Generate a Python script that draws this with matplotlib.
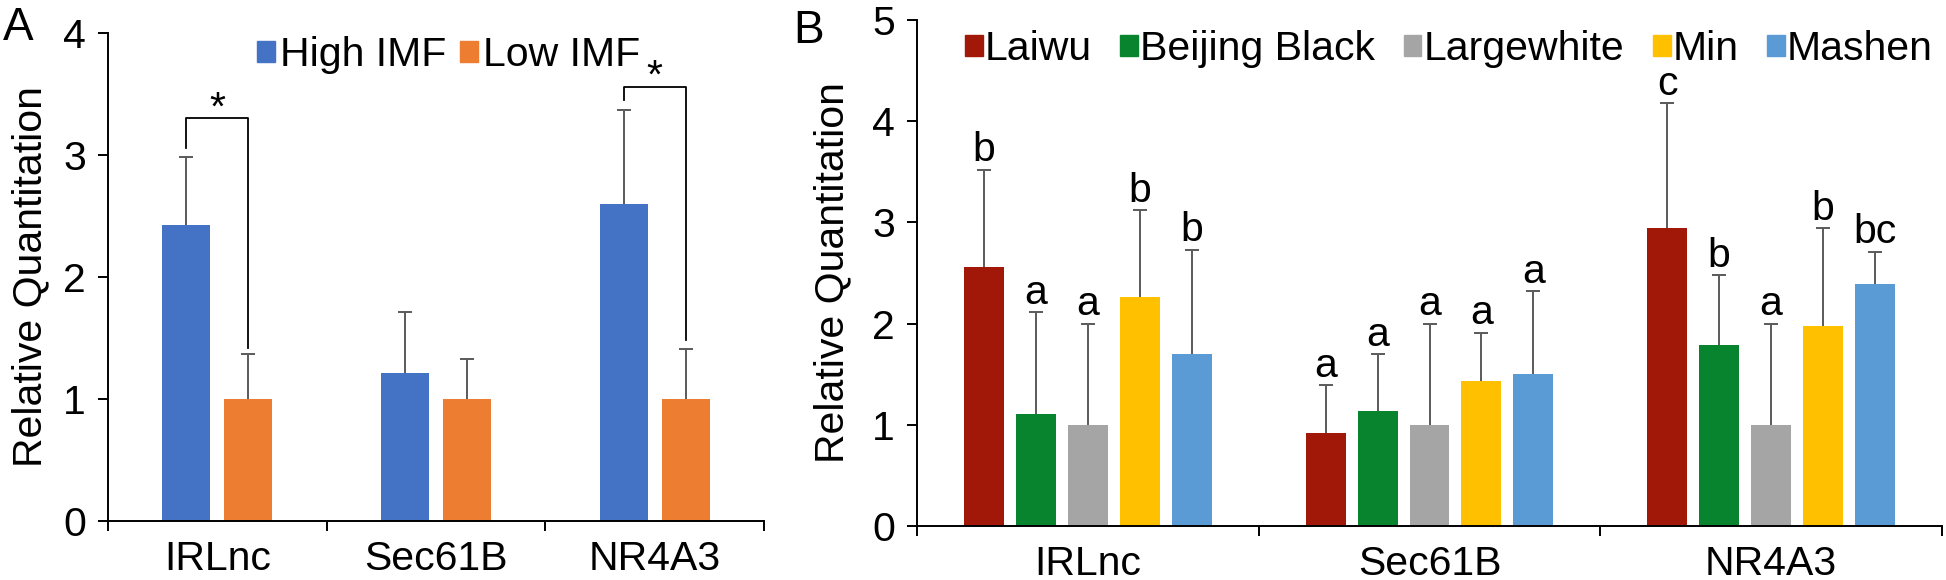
#!/usr/bin/env python3
"""Relative quantitation bar charts: (A) high vs low IMF, (B) five pig breeds."""

import matplotlib
matplotlib.use("Agg")
import matplotlib.pyplot as plt
from matplotlib.patches import Patch
import numpy as np

plt.rcParams["font.family"] = ["Liberation Sans", "DejaVu Sans"]

GENES = ["IRLnc", "Sec61B", "NR4A3"]

# panel A
IMF_GROUPS = ["High IMF", "Low IMF"]
IMF_MEAN = {
    "High IMF": [2.43, 1.21, 2.60],
    "Low IMF": [1.00, 1.00, 1.00],
}
IMF_ERR = {
    "High IMF": [0.55, 0.50, 0.77],
    "Low IMF": [0.37, 0.33, 0.41],
}
# (gene index, left drop end, bracket top, right drop end)
SIG_BRACKETS = [(0, 3.06, 3.30, 1.42), (2, 3.45, 3.56, 1.48)]

# panel B
BREEDS = ["Laiwu", "Beijing Black", "Largewhite", "Min", "Mashen"]
BREED_MEAN = {
    "Laiwu": [2.56, 0.92, 2.94],
    "Beijing Black": [1.11, 1.14, 1.79],
    "Largewhite": [1.00, 1.00, 1.00],
    "Min": [2.26, 1.43, 1.98],
    "Mashen": [1.70, 1.50, 2.39],
}
BREED_ERR = {
    "Laiwu": [0.96, 0.47, 1.24],
    "Beijing Black": [1.00, 0.56, 0.69],
    "Largewhite": [1.00, 1.00, 1.00],
    "Min": [0.86, 0.48, 0.96],
    "Mashen": [1.03, 0.82, 0.32],
}
BREED_LETTERS = {
    "Laiwu": ["b", "a", "c"],
    "Beijing Black": ["a", "a", "b"],
    "Largewhite": ["a", "a", "a"],
    "Min": ["b", "a", "b"],
    "Mashen": ["b", "a", "bc"],
}

IMF_COLORS = {"High IMF": "#4472C4", "Low IMF": "#ED7D31"}
BREED_COLORS = {
    "Laiwu": "#A21808",
    "Beijing Black": "#08842F",
    "Largewhite": "#A5A5A5",
    "Min": "#FFC000",
    "Mashen": "#5B9BD5",
}

FS = 29.5
ERR_KW = dict(ecolor="#5a5a5a", elinewidth=1.4, capsize=5, capthick=1.4)


def upper_bars(ax, xs, means, errs, **kw):
    """Bars with one-sided (upward) error bars; drop the cap at the bar top."""
    bars = ax.bar(xs, means, yerr=[np.zeros(len(means)), errs],
                  error_kw=ERR_KW, zorder=2, **kw)
    _, caplines, _ = bars.errorbar.lines
    for cl in caplines:
        if np.allclose(cl.get_ydata(), means):
            cl.set_visible(False)
    return bars


def style_axes(ax, ymax):
    x = np.arange(len(GENES))
    ax.set_xlim(-0.5, len(GENES) - 0.5)
    ax.set_ylim(0, ymax)
    ax.set_yticks(range(ymax + 1))
    ax.set_xticks(np.arange(len(GENES) + 1) - 0.5)
    ax.set_xticklabels([])
    ax.set_xticks(x, GENES, minor=True)
    ax.tick_params(axis="x", which="minor", length=0, pad=14, labelsize=FS)
    ax.tick_params(axis="x", which="major", length=7, width=1.4, direction="out")
    ax.tick_params(axis="y", length=7, width=1.4, pad=9, labelsize=FS)
    for side in ("top", "right"):
        ax.spines[side].set_visible(False)
    for side in ("left", "bottom"):
        ax.spines[side].set_linewidth(1.4)
    ax.set_ylabel("Relative Quantitation", fontsize=FS)


fig = plt.figure(figsize=(19.46, 5.80), dpi=100)
ax_a = fig.add_axes([108 / 1946, 59 / 580, 656 / 1946, 488 / 580])
ax_b = fig.add_axes([917 / 1946, 54 / 580, 1025 / 1946, 506 / 580])

# ---- panel A
x = np.arange(len(GENES))
width_a = 0.22
offsets_a = {"High IMF": -0.142, "Low IMF": 0.142}
for g in IMF_GROUPS:
    upper_bars(ax_a, x + offsets_a[g], IMF_MEAN[g], IMF_ERR[g],
               width=width_a, color=IMF_COLORS[g], label=g)

for gi, y_left, y_top, y_right in SIG_BRACKETS:
    xl = gi + offsets_a["High IMF"]
    xr = gi + offsets_a["Low IMF"]
    ax_a.plot([xl, xl, xr, xr], [y_left, y_top, y_top, y_right], color="black",
              lw=1.3, zorder=3, clip_on=False)
    ax_a.annotate("*", xy=(gi, y_top), xytext=(0, -1), textcoords="offset points",
                  ha="center", va="baseline", fontsize=FS, annotation_clip=False)

style_axes(ax_a, 4)
ax_a.yaxis.set_label_coords(-0.09, 0.5)
ax_a.legend(handles=[Patch(color=IMF_COLORS[g], label=g) for g in IMF_GROUPS],
            loc="center left", bbox_to_anchor=(257 / 1946, 1 - 55 / 580),
            bbox_transform=fig.transFigure, ncol=2, frameon=False, fontsize=FS,
            handlelength=0.43, handleheight=0.43, handletextpad=0.12,
            columnspacing=0.35, borderpad=0, borderaxespad=0)

# ---- panel B
width_b = 0.117
pitch_b = 0.152
for i, b in enumerate(BREEDS):
    xs = x + (i - 2) * pitch_b
    upper_bars(ax_b, xs, BREED_MEAN[b], BREED_ERR[b],
               width=width_b, color=BREED_COLORS[b], label=b)
    for xi, m, e, lt in zip(xs, BREED_MEAN[b], BREED_ERR[b], BREED_LETTERS[b]):
        ax_b.annotate(lt, xy=(xi, m + e), xytext=(0, 6), textcoords="offset points",
                      ha="center", va="baseline", fontsize=FS)

style_axes(ax_b, 5)
ax_b.yaxis.set_label_coords(-0.064, 0.5)
ax_b.legend(handles=[Patch(color=BREED_COLORS[b], label=b) for b in BREEDS],
            loc="center left", bbox_to_anchor=(965 / 1946, 1 - 49 / 580),
            bbox_transform=fig.transFigure, ncol=5, frameon=False, fontsize=FS,
            handlelength=0.43, handleheight=0.43, handletextpad=0.05,
            columnspacing=0.7, borderpad=0, borderaxespad=0)

fig.text(3 / 1946, 1 - 40 / 580, "A", fontsize=33, va="baseline")
fig.text(793 / 1946, 1 - 43 / 580, "B", fontsize=33, va="baseline")

fig.savefig("out.png", dpi=100)
